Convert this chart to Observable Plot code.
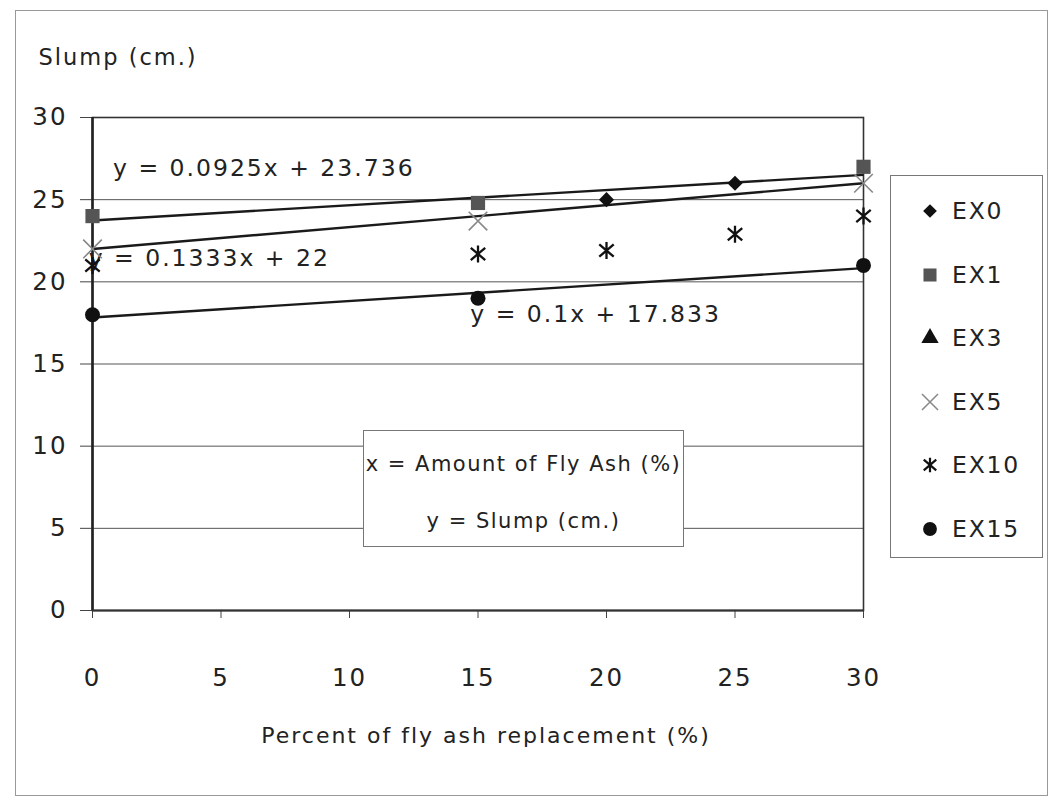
<!DOCTYPE html>
<html><head><meta charset="utf-8">
<script src="https://cdn.jsdelivr.net/npm/d3@7"></script>
<script src="https://cdn.jsdelivr.net/npm/@observablehq/plot@0.6"></script>
<style>
html,body{margin:0;padding:0;background:#fff;}
#wrap{position:relative;width:1050px;height:799px;overflow:hidden;font-family:"DejaVu Sans",sans-serif;color:#222;background:#fff;}
#border{position:absolute;left:15px;top:10px;width:1033px;height:786px;border:1px solid #999;box-sizing:border-box;}
#chart{position:absolute;left:0;top:0;}
#chart text{letter-spacing:2px;}
#note{position:absolute;left:363px;top:430px;width:321px;height:117px;border:1px solid #777;background:#fff;box-sizing:border-box;font-size:21px;letter-spacing:1.5px;}
#note div{position:absolute;left:0;right:0;text-align:center;line-height:24px;white-space:nowrap;}
#legend{position:absolute;left:890px;top:175px;width:153px;height:383px;border:1px solid #777;background:#fff;box-sizing:border-box;}
#legend .row{position:absolute;left:0;right:0;height:40px;}
#legend svg{position:absolute;left:28px;top:9px;}
#legend span{position:absolute;left:61px;top:0;line-height:40px;font-size:23.5px;letter-spacing:1.8px;}
</style>
</head><body>
<div id="wrap"><div id="border"></div><div id="chart"></div><div id="note"></div><div id="legend"></div></div>
<script>
// ---- data ----
const xTicks = [0, 5, 10, 15, 20, 25, 30];
const yTicks = [0, 5, 10, 15, 20, 25, 30];
const seriesNames = ["EX0", "EX1", "EX3", "EX5", "EX10", "EX15"];
const ex0X = [20, 25];            const ex0Y = [25.0, 26.0];
const ex1X = [0, 15, 30];         const ex1Y = [24.0, 24.8, 27.0];
const ex3X = [];                  const ex3Y = [];
const ex5X = [0, 15, 30];         const ex5Y = [22.0, 23.7, 26.0];
const ex10X = [0, 15, 20, 25, 30]; const ex10Y = [21.0, 21.7, 21.9, 22.9, 24.0];
const ex15X = [0, 15, 30];        const ex15Y = [18.0, 19.0, 21.0];
const trendSlopes = [0.0925, 0.1333, 0.1];
const trendIntercepts = [23.736, 22, 17.833];
const trendLabels = ["y = 0.0925x + 23.736", "y = 0.1333x + 22", "y = 0.1x + 17.833"];
const trendLabelX = [0.8, -0.15, 14.7];
const trendLabelY = [26.9, 21.4, 18.0];
const xTitle = "Percent of fly ash replacement (%)";
const yTitle = "Slump (cm.)";
const noteLines = ["x = Amount of Fly Ash (%)", "y = Slump (cm.)"];

// ---- helpers ----
const pts = (xs, ys) => xs.map((x, i) => ({x, y: ys[i]}));
const xMin = xTicks[0], xMax = xTicks[xTicks.length - 1];
const trendRows = trendSlopes.map((m, i) => ({
  x1: xMin, y1: m * xMin + trendIntercepts[i],
  x2: xMax, y2: m * xMax + trendIntercepts[i],
  lx: trendLabelX[i], ly: trendLabelY[i], label: trendLabels[i]
}));
const asteriskX = {
  draw(ctx, size) {
    const r = Math.sqrt(size / Math.PI);
    ctx.moveTo(0, -r); ctx.lineTo(0, r);
    ctx.moveTo(-0.85 * r, -0.72 * r); ctx.lineTo(0.85 * r, 0.72 * r);
    ctx.moveTo(-0.85 * r, 0.72 * r); ctx.lineTo(0.85 * r, -0.72 * r);
  }
};

const chart = Plot.plot({
  width: 1050, height: 799,
  marginLeft: 92, marginRight: 187, marginTop: 117, marginBottom: 189,
  style: {fontFamily: "DejaVu Sans, sans-serif", background: "transparent", color: "#222"},
  x: {domain: [xMin, xMax]},
  y: {domain: [yTicks[0], yTicks[yTicks.length - 1]]},
  marks: [
    Plot.gridY(yTicks, {stroke: "#555", strokeOpacity: 1, strokeWidth: 1}),
    Plot.axisY({ticks: yTicks, tickSize: 12, tickPadding: 13, fontSize: 24.5, label: null, stroke: "#444"}),
    Plot.axisX({ticks: xTicks, tickSize: 8, tickPadding: 50, fontSize: 24.5, label: null, stroke: "#444"}),
    Plot.frame({stroke: "#333", strokeWidth: 1.6}),
    Plot.ruleX([xMin], {stroke: "#222", strokeWidth: 2.6}),
    Plot.ruleY([yTicks[0]], {stroke: "#333", strokeWidth: 2}),
    Plot.link(trendRows, {x1: "x1", y1: "y1", x2: "x2", y2: "y2", stroke: "#1a1a1a", strokeWidth: 2.4}),
    Plot.text(trendRows, {x: "lx", y: "ly", text: "label", textAnchor: "start", fontSize: 23.5, fill: "#222"}),
    Plot.dot(pts(ex0X, ex0Y), {x: "x", y: "y", symbol: "diamond2", fill: "#111", stroke: "none", r: 6.8}),
    Plot.dot(pts(ex1X, ex1Y), {x: "x", y: "y", symbol: "square", fill: "#555", stroke: "none", r: 8}),
    Plot.dot(pts(ex3X, ex3Y), {x: "x", y: "y", symbol: "triangle", fill: "#111", stroke: "none", r: 7}),
    Plot.dot(pts(ex5X, ex5Y), {x: "x", y: "y", symbol: "times", fill: "none", stroke: "#888", strokeWidth: 1.6, r: 8.5}),
    Plot.dot(pts(ex10X, ex10Y), {x: "x", y: "y", symbol: asteriskX, fill: "none", stroke: "#111", strokeWidth: 2.3, r: 8.5}),
    Plot.dot(pts(ex15X, ex15Y), {x: "x", y: "y", symbol: "circle", fill: "#111", stroke: "none", r: 7.5}),
    Plot.text([xTitle], {frameAnchor: "bottom", dx: 8, dy: 132, fontSize: 22, fill: "#222"}),
    Plot.text([yTitle], {frameAnchor: "top-left", textAnchor: "start", dx: -54, dy: -68, fontSize: 22.5, fill: "#222"})
  ]
});
document.getElementById("chart").appendChild(chart);

// ---- annotation box ----
const note = document.getElementById("note");
noteLines.forEach((t, i) => {
  const d = document.createElement("div");
  d.textContent = t;
  d.style.top = (21 + i * 57) + "px";
  note.appendChild(d);
});

// ---- legend ----
const legendSymbols = {
  EX0: {type: d3.symbolDiamond2, size: 120, fill: "#111", stroke: "none"},
  EX1: {type: d3.symbolSquare, size: 170, fill: "#555", stroke: "none"},
  EX3: {type: d3.symbolTriangle, size: 130, fill: "#111", stroke: "none"},
  EX5: {type: d3.symbolTimes, size: 170, fill: "none", stroke: "#888", sw: 1.5},
  EX10: {type: asteriskX, size: 170, fill: "none", stroke: "#111", sw: 2.2},
  EX15: {type: d3.symbolCircle, size: 150, fill: "#111", stroke: "none"}
};
const legend = document.getElementById("legend");
seriesNames.forEach((name, i) => {
  const s = legendSymbols[name];
  const row = document.createElement("div");
  row.className = "row";
  row.style.top = (15 + i * 63.6) + "px";
  const svg = d3.create("svg").attr("width", 22).attr("height", 22);
  svg.append("path")
    .attr("transform", "translate(11,11)")
    .attr("d", d3.symbol(s.type, s.size)())
    .attr("fill", s.fill).attr("stroke", s.stroke).attr("stroke-width", s.sw || 0);
  row.appendChild(svg.node());
  const sp = document.createElement("span");
  sp.textContent = name;
  row.appendChild(sp);
  legend.appendChild(row);
});
</script>
</body></html>
